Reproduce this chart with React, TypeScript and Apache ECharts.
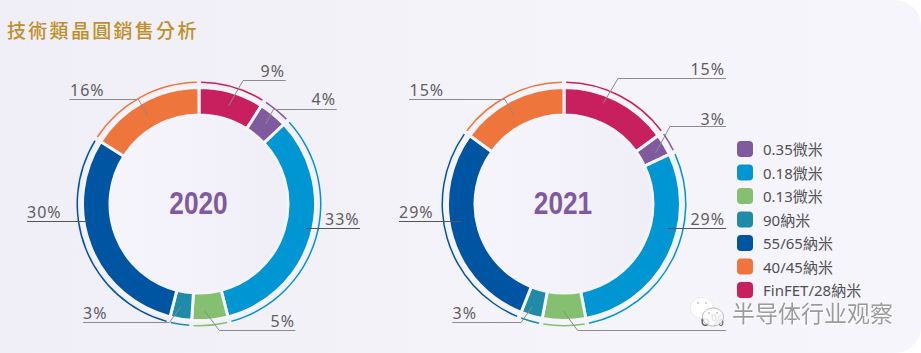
import React, { useEffect, useRef } from "react";
import * as echarts from "echarts";

const titleText = "技術類晶圓銷售分析";
const categories = ["FinFET/28納米", "0.35微米", "0.18微米", "0.13微米", "90納米", "55/65納米", "40/45納米"];
const legendOrder = ["0.35微米", "0.18微米", "0.13微米", "90納米", "55/65納米", "40/45納米", "FinFET/28納米"];
const values2020 = [9, 4, 33, 5, 3, 30, 16];
const values2021 = [15, 3, 29, 6, 3, 29, 15];
const colors = ["#c81f5e", "#7f5a9f", "#0095d3", "#84c06f", "#1f8ba8", "#0055a2", "#ee753b"];
const watermark = "半导体行业观察";

type Lay = { x: number; y: number; align: string; pts: number[][]; dark?: boolean };
const layout2020: Lay[] = [
  { x: 285, y: 71, align: "right", pts: [[228.5, 106], [243, 80.5], [285.7, 80.5]] },
  { x: 336, y: 99, align: "right", pts: [[265.7, 124], [273.3, 109.5], [336.7, 109.5]] },
  { x: 325, y: 218.5, align: "left", pts: [[306, 228.5], [360, 228.5]], dark: true },
  { x: 295, y: 321, align: "right", pts: [[204.7, 311], [219.3, 330.5], [295.3, 330.5]] },
  { x: 83, y: 312.5, align: "left", pts: [[181, 306.7], [169.3, 322.5], [83, 322.5]] },
  { x: 27, y: 211.5, align: "left", pts: [[87.3, 221.5], [27, 221.5]], dark: true },
  { x: 70, y: 89.5, align: "left", pts: [[147.7, 115], [138.3, 99.5], [69.3, 99.5]] },
];
const layout2021: Lay[] = [
  { x: 725, y: 69, align: "right", pts: [[603.3, 103.3], [618, 78.5], [726, 78.5]] },
  { x: 725, y: 118.5, align: "right", pts: [[655.7, 152.7], [670, 126.5], [726, 126.5]] },
  { x: 725, y: 218.5, align: "right", pts: [[668, 228.5], [726, 228.5]], dark: true },
  { x: 725, y: 320, align: "right", pts: [[563.3, 311], [577.7, 330.5], [726, 330.5]] },
  { x: 452.5, y: 312.5, align: "left", pts: [[532.3, 306.7], [521, 322.5], [452.3, 322.5]] },
  { x: 399, y: 211.5, align: "left", pts: [[461.7, 221.5], [399, 221.5]], dark: true },
  { x: 409.5, y: 90, align: "left", pts: [[513.3, 115], [505, 99.5], [409, 99.5]] },
];

const GAP = "#f6f4fb";
const LABEL_COLOR = "#5f5e60";
const TITLE_COLOR = "#bf9028";

function coloredData(values: number[]) {
  return values.map((value, i) => ({ name: categories[i], value, itemStyle: { color: colors[i] } }));
}

function mainPie(center: number[], values: number[]) {
  return {
    type: "pie",
    silent: true,
    center,
    radius: [89, 116.5],
    startAngle: 90,
    itemStyle: { borderColor: GAP, borderWidth: 3 },
    label: { show: false },
    labelLine: { show: false },
    data: coloredData(values),
  };
}

function labelPie(center: number[], values: number[], lays: Lay[]) {
  return {
    type: "pie",
    silent: true,
    z: 5,
    center,
    radius: [89, 116.5],
    startAngle: 90,
    avoidLabelOverlap: false,
    label: {
      show: true,
      formatter: "{c}%",
      color: LABEL_COLOR,
      fontFamily: "'Noto Sans'",
      fontSize: 16,
    },
    labelLine: { show: true },
    labelLayout: (p: any) => {
      const l = lays[p.dataIndex];
      return { x: l.x, y: l.y, align: l.align, verticalAlign: "middle", labelLinePoints: l.pts };
    },
    data: values.map((value, i) => ({
      name: categories[i],
      value,
      itemStyle: { color: "transparent" },
      labelLine: { show: true, lineStyle: { color: lays[i].dark ? "#555555" : "#8c8c8c", width: 1 } },
    })),
  };
}

function ringPie(center: number[], values: number[]) {
  return {
    type: "pie",
    silent: true,
    center,
    radius: [121, 122.5],
    startAngle: 90,
    padAngle: 2,
    label: { show: false },
    labelLine: { show: false },
    data: coloredData(values),
  };
}

function disc(cx: number, cy: number) {
  return {
    type: "circle",
    z: 1,
    silent: true,
    shape: { cx, cy, r: 92 },
    style: {
      fill: new echarts.graphic.LinearGradient(0, 0, 1, 0, [
        { offset: 0, color: "#f7f5fc" },
        { offset: 1, color: "#efedf6" },
      ]),
    },
  };
}

function yearText(text: string, x: number) {
  return {
    type: "text",
    z: 5,
    silent: true,
    x,
    y: 203.5,
    scaleX: 0.82,
    style: {
      text,
      fill: "#7f5a9f",
      font: "bold 32px 'Liberation Sans'",
      align: "center",
      verticalAlign: "middle",
    },
  };
}

function bubble(cx: number, cy: number, rx: number, ry: number, stroke: string, opacity: number) {
  return {
    type: "ellipse",
    z: 20,
    silent: true,
    shape: { cx, cy, rx, ry },
    style: { fill: "#ffffff", stroke, lineWidth: 0.7, opacity },
  };
}

function eye(cx: number, cy: number) {
  return {
    type: "circle",
    z: 21,
    silent: true,
    shape: { cx, cy, r: 1 },
    style: { fill: "#c9c9c9" },
  };
}

export default function App() {
  const ref = useRef<HTMLDivElement>(null);
  useEffect(() => {
    const chart = echarts.init(ref.current!, undefined, { renderer: "svg" });
    chart.setOption({
      animation: false,
      backgroundColor: "#ffffff",
      legend: {
        orient: "vertical",
        left: 737,
        top: 141,
        padding: 0,
        itemWidth: 16,
        itemHeight: 16,
        itemGap: 7.5,
        icon: "roundRect",
        selectedMode: false,
        data: legendOrder,
        textStyle: {
          color: "#505052",
          fontFamily: "'Noto Sans', 'Noto Sans CJK TC'",
          fontSize: 15,
          padding: [0, 0, 0, 5],
        },
      },
      series: [
        ringPie([199, 204], values2020),
        ringPie([564, 204], values2021),
        mainPie([199, 204], values2020),
        mainPie([564, 204], values2021),
        labelPie([199, 204], values2020, layout2020),
        labelPie([564, 204], values2021, layout2021),
      ],
      graphic: [
        {
          type: "rect",
          z: 0,
          silent: true,
          shape: { x: 0, y: 0, width: 921, height: 353, r: [0, 26, 26, 0] },
          style: {
            fill: new echarts.graphic.LinearGradient(0, 0, 1, 0, [
              { offset: 0, color: "#f0eef6" },
              { offset: 0.35, color: "#f3f1f8" },
              { offset: 0.6, color: "#f6f4fb" },
              { offset: 1, color: "#f6f5fb" },
            ]),
          },
        },
        disc(199, 204),
        disc(564, 204),
        yearText("2020", 198.5),
        yearText("2021", 563),
        {
          type: "text",
          z: 5,
          silent: true,
          x: 7,
          y: 29.5,
          style: {
            text: titleText,
            fill: TITLE_COLOR,
            font: "500 19px 'Noto Sans CJK TC'",
            verticalAlign: "middle",
          },
        },
        bubble(702, 308, 11.5, 10.5, "#e4e4e4", 1),
        bubble(713, 317, 10.5, 9, "#888888", 0.8),
        eye(698, 303),
        eye(706, 303),
        eye(709, 313),
        eye(717, 313),
        {
          type: "text",
          z: 21,
          silent: true,
          x: 732,
          y: 312,
          style: {
            text: watermark,
            fill: "#9b9b9b",
            font: "23px 'Noto Sans CJK SC'",
            verticalAlign: "middle",
            textShadowColor: "#ffffff",
            textShadowBlur: 1,
            textShadowOffsetX: 1,
            textShadowOffsetY: 1,
          },
        },
      ],
    });
    return () => chart.dispose();
  }, []);
  return (
    <>
      <style>{`
        body { margin: 0; }
        text[fill="${TITLE_COLOR}"] { letter-spacing: 2.3px; }
        text[fill="${LABEL_COLOR}"] { letter-spacing: 1px; }
      `}</style>
      <div ref={ref} style={{ position: "absolute", left: 0, top: 0, width: 921, height: 353 }} />
    </>
  );
}
